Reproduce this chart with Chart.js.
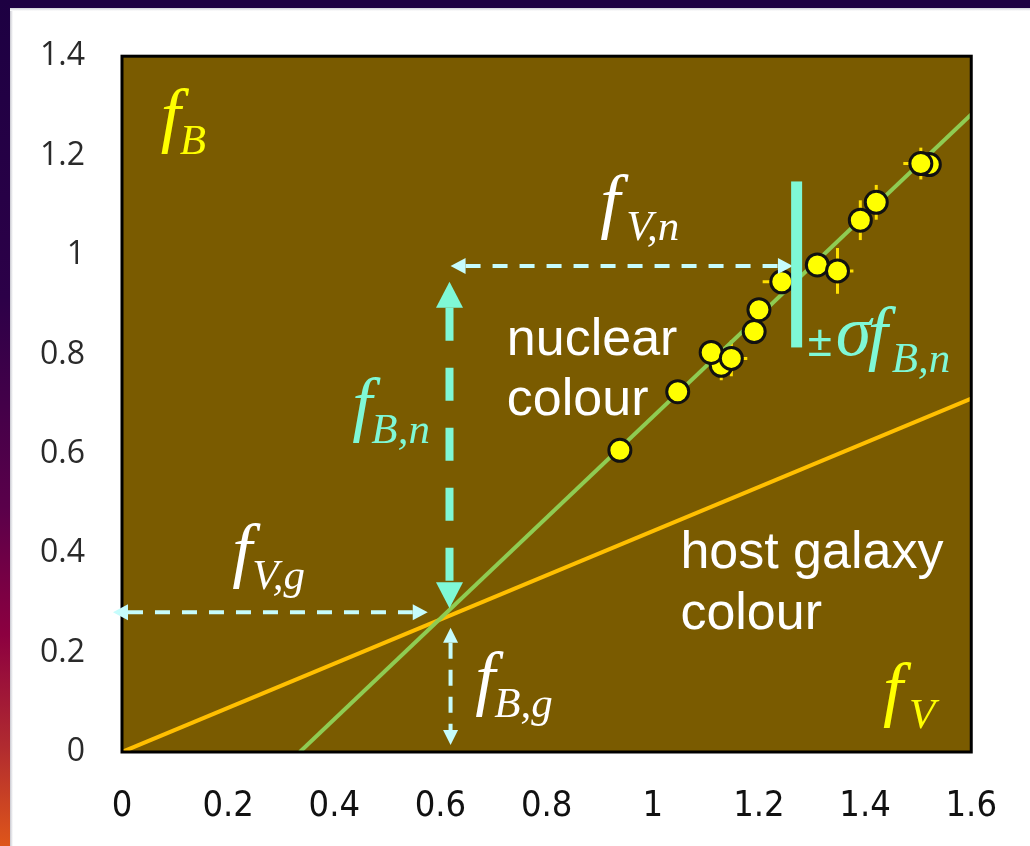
<!DOCTYPE html>
<html>
<head>
<meta charset="utf-8">
<script src="https://cdn.jsdelivr.net/npm/chart.js@4/dist/chart.umd.min.js"></script>
<style>
  html, body { margin: 0; padding: 0; background: #ffffff; }
  #wrap { position: relative; width: 1030px; height: 846px; overflow: hidden; background: #ffffff; }
  #topband { position: absolute; left: 0; top: 0; width: 1030px; height: 8px; background: #1d0042; }
  #leftband { position: absolute; left: 0; top: 0; width: 10px; height: 846px;
    background: linear-gradient(to bottom, #1d0042 0%, #2c0048 35%, #5a004a 60%, #8c0040 75%, #b02a30 88%, #de561a 100%); }
  #shadow { position: absolute; left: 10px; top: 8px; width: 3px; height: 838px; background: linear-gradient(to right, #c8c8d0, #ffffff); }
  #tshadow { position: absolute; left: 10px; top: 8px; width: 1020px; height: 3px; background: linear-gradient(to bottom, #d0d0d8, #ffffff); }
  canvas { position: absolute; left: 0; top: 0; }
</style>
</head>
<body>
<div id="wrap">
  <div id="topband"></div>
  <div id="leftband"></div>
  <div id="shadow"></div>
  <div id="tshadow"></div>
  <canvas id="c" width="1030" height="846"></canvas>
</div>
<script>
// ---------------- data ----------------
const xTickLabels = ['0', '0.2', '0.4', '0.6', '0.8', '1', '1.2', '1.4', '1.6'];
const yTickLabels = ['0', '0.2', '0.4', '0.6', '0.8', '1', '1.2', '1.4'];

// flux points (f_V, f_B), drawn in this order
const pointX = [1.129, 1.110, 1.148, 0.938, 1.047, 1.191, 1.200, 1.243, 1.310, 1.348, 1.391, 1.421, 1.521, 1.505];
const pointY = [0.778, 0.804, 0.792, 0.607, 0.725, 0.846, 0.890, 0.946, 0.980, 0.968, 1.070, 1.106, 1.182, 1.184];
const errX   = [0,     0,     0.030, 0,     0,     0,     0,     0.036, 0,     0.030, 0,     0,     0,     0.033];
const errY   = [0.030, 0,     0.036, 0,     0,     0,     0,     0,     0,     0.046, 0.040, 0.035, 0,     0.032];

// nuclear colour line and host galaxy colour line (end points)
const nuclearLineX = [0.335, 1.6];
const nuclearLineY = [0.0, 1.283];
const hostLineX = [0.0, 1.6];
const hostLineY = [0.0, 0.711];

// ---------------- chart ----------------
const BROWN = '#7a5b00';
const AQUA = '#7ff8d6';
const LCYAN = '#c6fcfc';
const YEL = '#ffff00';

const plotBg = {
  id: 'plotBg',
  beforeDatasetsDraw(chart) {
    const { ctx, chartArea: a } = chart;
    ctx.save();
    ctx.fillStyle = BROWN;
    ctx.fillRect(a.left, a.top, a.width, a.height);
    ctx.restore();
    // error bars
    const xs = chart.scales.x, ys = chart.scales.y;
    ctx.save();
    ctx.strokeStyle = '#ffe000';
    ctx.lineWidth = 3;
    for (let i = 0; i < pointX.length; i++) {
      const px = xs.getPixelForValue(pointX[i]);
      const py = ys.getPixelForValue(pointY[i]);
      if (errX[i] > 0) {
        ctx.beginPath();
        ctx.moveTo(xs.getPixelForValue(pointX[i] - errX[i]), py);
        ctx.lineTo(xs.getPixelForValue(pointX[i] + errX[i]), py);
        ctx.stroke();
      }
      if (errY[i] > 0) {
        ctx.beginPath();
        ctx.moveTo(px, ys.getPixelForValue(pointY[i] - errY[i]));
        ctx.lineTo(px, ys.getPixelForValue(pointY[i] + errY[i]));
        ctx.stroke();
      }
    }
    ctx.restore();
  },
  afterDatasetsDraw(chart) {
    const { ctx, chartArea: a } = chart;
    ctx.save();
    ctx.strokeStyle = '#000';
    ctx.lineWidth = 3;
    ctx.strokeRect(a.left, a.top, a.width, a.height);
    ctx.restore();
  }
};

function arrowHead(ctx, tx, ty, ux, uy, len, w, color) {
  const bx = tx - ux * len, by = ty - uy * len;
  const nx = -uy, ny = ux;
  ctx.fillStyle = color;
  ctx.beginPath();
  ctx.moveTo(tx, ty);
  ctx.lineTo(bx + nx * w / 2, by + ny * w / 2);
  ctx.lineTo(bx - nx * w / 2, by - ny * w / 2);
  ctx.closePath();
  ctx.fill();
}

function dashedArrow(ctx, x1, y1, x2, y2, o) {
  const dx = x2 - x1, dy = y2 - y1;
  const L = Math.hypot(dx, dy);
  const ux = dx / L, uy = dy / L;
  const sx = x1 + (o.head1 ? ux * o.hl : 0), sy = y1 + (o.head1 ? uy * o.hl : 0);
  const ex = x2 - (o.head2 ? ux * o.hl : 0), ey = y2 - (o.head2 ? uy * o.hl : 0);
  ctx.save();
  ctx.strokeStyle = o.color;
  ctx.lineWidth = o.lw;
  ctx.setLineDash(o.dash || []);
  ctx.lineDashOffset = o.offset || 0;
  ctx.beginPath();
  ctx.moveTo(sx, sy);
  ctx.lineTo(ex, ey);
  ctx.stroke();
  ctx.setLineDash([]);
  if (o.head1) arrowHead(ctx, x1, y1, -ux, -uy, o.hl, o.hw, o.color);
  if (o.head2) arrowHead(ctx, x2, y2, ux, uy, o.hl, o.hw, o.color);
  ctx.restore();
}

const SERIF = "'Liberation Serif', 'Times New Roman', serif";
const SANS = "'Liberation Sans', Arial, sans-serif";

const annotate = {
  id: 'annotate',
  afterDraw(chart, args, opts) {
    const { ctx } = chart;
    const xs = chart.scales.x, ys = chart.scales.y;
    const X = v => xs.getPixelForValue(v), Y = v => ys.getPixelForValue(v);

    opts.arrows.forEach(a => {
      dashedArrow(ctx, X(a.x1), Y(a.y1), X(a.x2), Y(a.y2), a);
    });
    const b = opts.bar;
    ctx.save();
    ctx.fillStyle = AQUA;
    const bx = X(b.x);
    ctx.fillRect(bx - b.w / 2, Y(b.y2), b.w, Y(b.y1) - Y(b.y2));
    ctx.restore();

    ctx.save();
    ctx.textAlign = 'left';
    ctx.textBaseline = 'alphabetic';
    opts.texts.forEach(t => {
      ctx.font = t.font;
      ctx.fillStyle = t.color;
      ctx.fillText(t.text, X(t.x), Y(t.y));
    });
    opts.math.forEach(m => {
      const ox = X(m.x), oy = Y(m.y);
      ctx.fillStyle = m.color;
      (m.pre || []).forEach(p => {
        ctx.font = p.font;
        ctx.fillText(p.text, ox + p.dx, oy + p.dy);
      });
      ctx.font = 'italic 72px ' + SERIF;
      ctx.fillText('f', ox, oy);
      ctx.font = 'italic 43px ' + SERIF;
      ctx.fillText(m.sub, ox + m.dx, oy + 15);
    });
    ctx.restore();
  }
};

const ctx = document.getElementById('c').getContext('2d');
new Chart(ctx, {
  type: 'scatter',
  data: {
    datasets: [
      {
        label: 'data',
        data: pointX.map((x, i) => ({ x: x, y: pointY[i] })),
        pointRadius: 11,
        pointHoverRadius: 11,
        pointBackgroundColor: '#ffff00',
        pointBorderColor: '#111',
        pointBorderWidth: 3,
        showLine: false
      },
      {
        label: 'nuclear',
        data: nuclearLineX.map((x, i) => ({ x: x, y: nuclearLineY[i] })),
        showLine: true,
        borderColor: '#8fcc52',
        borderWidth: 4,
        pointRadius: 0
      },
      {
        label: 'host',
        data: hostLineX.map((x, i) => ({ x: x, y: hostLineY[i] })),
        showLine: true,
        borderColor: '#ffbf00',
        borderWidth: 4,
        pointRadius: 0
      }
    ]
  },
  options: {
    responsive: false,
    animation: false,
    devicePixelRatio: 1,
    events: [],
    layout: { padding: { top: 53, right: 52, left: 0, bottom: 0 } },
    plugins: {
      legend: { display: false },
      tooltip: { enabled: false },
      annotate: {
        arrows: [
          { x1: 0.619, y1: 0.978, x2: 1.264, y2: 0.978, head1: true, head2: true, hl: 15, hw: 16, lw: 4, dash: [15, 12], color: LCYAN },
          { x1: 0.617, y1: 0.946, x2: 0.617, y2: 0.289, head1: true, head2: true, hl: 26, hw: 27, lw: 8, dash: [33, 27], color: AQUA },
          { x1: -0.017, y1: 0.281, x2: 0.576, y2: 0.281, head1: true, head2: true, hl: 15, hw: 16, lw: 4, dash: [15, 12], color: LCYAN },
          { x1: 0.619, y1: 0.250, x2: 0.619, y2: 0.014, head1: true, head2: true, hl: 15, hw: 15, lw: 4, dash: [16, 11], color: LCYAN }
        ],
        bar: { x: 1.271, y1: 0.814, y2: 1.148, w: 11 },
        texts: [
          { text: 'nuclear', x: 0.725, y: 0.798, font: '52px ' + SANS, color: '#ffffff' },
          { text: 'colour', x: 0.725, y: 0.678, font: '52px ' + SANS, color: '#ffffff' },
          { text: 'host galaxy', x: 1.052, y: 0.371, font: '52px ' + SANS, color: '#ffffff' },
          { text: 'colour', x: 1.052, y: 0.248, font: '52px ' + SANS, color: '#ffffff' }
        ],
        math: [
          { x: 0.073, y: 1.233, sub: 'B', dx: 19, color: YEL },
          { x: 0.901, y: 1.060, sub: 'V,n', dx: 26, color: '#ffffff' },
          { x: 0.434, y: 0.651, sub: 'B,n', dx: 19, color: AQUA },
          { x: 0.2075, y: 0.3587, sub: 'V,g', dx: 20, color: '#ffffff' },
          { x: 0.6654, y: 0.1002, sub: 'B,g', dx: 19, color: '#ffffff' },
          { x: 1.4336, y: 0.0782, sub: 'V', dx: 26, color: YEL },
          { x: 1.405, y: 0.795, sub: 'B,n', dx: 24, color: AQUA,
            pre: [
              { text: '\u00b1', dx: -60, dy: -1, font: '44px ' + SANS },
              { text: '\u03c3', dx: -32, dy: -2, font: 'italic 72px ' + SERIF }
            ] }
        ]
      }
    },
    scales: {
      x: {
        type: 'linear',
        min: 0, max: 1.6,
        grid: { display: false, drawTicks: false },
        border: { display: false },
        afterFit: s => { s.height = 94; },
        afterBuildTicks: s => { s.ticks = xTickLabels.map(t => ({ value: parseFloat(t) })); },
        ticks: {
          padding: 33,
          color: '#111',
          font: { family: "'Liberation Sans Narrow', 'DejaVu Sans Condensed', sans-serif", size: 36 },
          callback: (v, i) => xTickLabels[i]
        }
      },
      y: {
        type: 'linear',
        min: 0, max: 1.4,
        grid: { display: false, drawTicks: false },
        border: { display: false },
        afterFit: s => { s.width = 122; },
        afterBuildTicks: s => { s.ticks = yTickLabels.map(t => ({ value: parseFloat(t) })); },
        ticks: {
          padding: 37,
          color: '#2a2a2a',
          font: { family: "'Open Sans', sans-serif", size: 32 },
          callback: (v, i) => yTickLabels[i]
        }
      }
    }
  },
  plugins: [plotBg, annotate]
});
</script>
</body>
</html>
